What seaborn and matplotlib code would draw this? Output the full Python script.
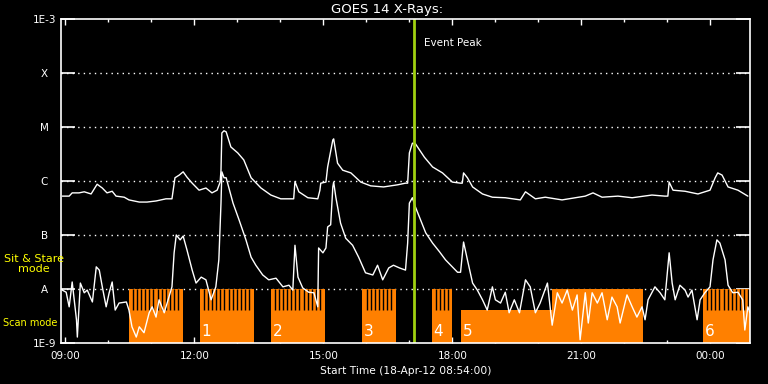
import numpy as np
import pandas as pd
import matplotlib
matplotlib.use('Agg')
import matplotlib.pyplot as plt
import seaborn as sns
from matplotlib.ticker import FixedLocator, NullLocator

# GOES 14 long channel (1-8 A): hours after 18-Apr-12 00:00, log10 flux (W/m^2)
long_hours = [8.93, 9.09, 9.16, 9.32, 9.44, 9.60, 9.74, 9.86, 9.97, 10.09, 10.18, 10.37,
              10.48, 10.72, 10.90, 11.11, 11.34, 11.48, 11.55, 11.65, 11.74, 11.83, 11.95,
              12.11, 12.27, 12.41, 12.53, 12.60, 12.62, 12.64, 12.69, 12.74, 12.85, 13.01,
              13.15, 13.32, 13.55, 13.78, 14.01, 14.24, 14.31, 14.34, 14.43, 14.64, 14.87,
              14.92, 14.94, 15.06, 15.10, 15.22, 15.24, 15.33, 15.45, 15.64, 15.87, 16.10,
              16.40, 16.73, 16.91, 16.96, 17.00, 17.07, 17.14, 17.35, 17.54, 17.77, 18.00,
              18.19, 18.23, 18.26, 18.35, 18.47, 18.70, 18.93, 19.23, 19.58, 19.70, 19.93,
              20.16, 20.39, 20.55, 20.86, 21.09, 21.27, 21.48, 21.85, 22.18, 22.64, 22.94,
              23.01, 23.04, 23.13, 23.41, 23.71, 23.99, 24.11, 24.17, 24.27, 24.41, 24.64,
              24.87]
long_log = [-6.28, -6.28, -6.22, -6.22, -6.20, -6.24, -6.06, -6.13, -6.22, -6.19, -6.28, -6.30,
            -6.35, -6.39, -6.39, -6.37, -6.33, -6.33, -5.94, -5.89, -5.83, -5.93, -6.04,
            -6.17, -6.13, -6.22, -6.17, -6.02, -5.80, -5.11, -5.07, -5.09, -5.37, -5.48,
            -5.61, -5.94, -6.13, -6.26, -6.33, -6.33, -6.33, -6.01, -6.20, -6.31, -6.33,
            -6.17, -6.04, -6.02, -5.74, -5.24, -5.22, -5.67, -5.80, -5.85, -6.02, -6.09,
            -6.11, -6.07, -6.04, -6.04, -5.48, -5.30, -5.31, -5.56, -5.74, -5.85, -6.02,
            -6.04, -6.04, -5.85, -5.94, -6.11, -6.24, -6.30, -6.31, -6.35, -6.20, -6.33,
            -6.30, -6.33, -6.35, -6.31, -6.28, -6.22, -6.30, -6.28, -6.31, -6.26, -6.28,
            -6.28, -6.02, -6.17, -6.19, -6.24, -6.17, -5.94, -5.85, -5.89, -6.11, -6.17,
            -6.28]

# short channel (0.5-4 A)
short_hours = [8.93, 9.02, 9.09, 9.16, 9.26, 9.28, 9.35, 9.44, 9.51, 9.63, 9.72, 9.79,
               9.86, 9.95, 10.02, 10.09, 10.16, 10.25, 10.42, 10.48, 10.55, 10.65, 10.72,
               10.83, 10.95, 11.02, 11.11, 11.18, 11.30, 11.41, 11.48, 11.53, 11.58, 11.67,
               11.74, 11.83, 11.95, 12.04, 12.16, 12.27, 12.39, 12.50, 12.57, 12.62, 12.64,
               12.69, 12.74, 12.90, 13.04, 13.20, 13.32, 13.43, 13.59, 13.73, 13.90, 14.06,
               14.20, 14.29, 14.34, 14.41, 14.52, 14.66, 14.78, 14.87, 14.89, 14.99, 15.06,
               15.10, 15.17, 15.22, 15.24, 15.29, 15.40, 15.52, 15.68, 15.82, 15.98, 16.15,
               16.26, 16.38, 16.52, 16.63, 16.77, 16.91, 16.96, 17.00, 17.07, 17.14, 17.26,
               17.38, 17.54, 17.70, 17.84, 18.00, 18.12, 18.19, 18.26, 18.35, 18.47, 18.58,
               18.70, 18.81, 18.93, 19.00, 19.12, 19.23, 19.32, 19.44, 19.56, 19.70, 19.81,
               19.93, 20.04, 20.21, 20.32, 20.44, 20.55, 20.67, 20.79, 20.90, 20.97, 21.09,
               21.16, 21.25, 21.37, 21.48, 21.60, 21.71, 21.83, 21.90, 22.06, 22.18, 22.29,
               22.41, 22.48, 22.55, 22.71, 22.83, 22.94, 23.04, 23.11, 23.18, 23.29, 23.41,
               23.48, 23.57, 23.69, 23.76, 23.87, 23.99, 24.06, 24.15, 24.22, 24.34, 24.41,
               24.52, 24.64, 24.75, 24.80, 24.87, 24.92]
short_log = [-8.02, -8.06, -8.33, -7.87, -8.57, -8.89, -7.89, -8.07, -8.02, -8.24, -7.59, -7.65,
             -7.96, -8.33, -8.07, -7.87, -8.39, -8.26, -8.24, -8.39, -8.70, -8.89, -8.70,
             -8.81, -8.44, -8.33, -8.52, -8.20, -8.44, -8.15, -7.96, -7.33, -7.00, -7.09,
             -7.02, -7.28, -7.65, -7.89, -7.78, -7.83, -8.20, -7.96, -7.46, -6.41, -5.83,
             -5.94, -5.94, -6.41, -6.72, -7.09, -7.41, -7.56, -7.74, -7.83, -7.80, -7.96,
             -7.93, -8.02, -7.19, -7.78, -7.98, -8.06, -8.07, -8.33, -7.24, -7.33, -7.24,
             -6.85, -6.81, -6.11, -6.02, -6.30, -6.78, -7.06, -7.19, -7.41, -7.70, -7.74,
             -7.56, -7.83, -7.61, -7.56, -7.61, -7.65, -7.15, -6.41, -6.31, -6.48, -6.72,
             -6.96, -7.15, -7.31, -7.46, -7.59, -7.69, -7.69, -7.13, -7.46, -7.89, -8.02,
             -8.20, -8.39, -7.96, -8.20, -8.26, -8.06, -8.44, -8.20, -8.44, -7.83, -7.96,
             -8.44, -8.26, -7.89, -8.67, -8.07, -8.26, -8.02, -8.39, -8.11, -8.94, -8.07,
             -8.63, -8.07, -8.26, -8.07, -8.57, -8.15, -8.33, -8.63, -8.11, -8.33, -8.52,
             -8.33, -8.57, -8.20, -7.96, -8.07, -8.20, -7.33, -7.89, -8.20, -7.93, -8.02,
             -8.15, -8.02, -8.57, -8.20, -8.07, -7.96, -7.46, -7.09, -7.15, -7.46, -7.93,
             -8.07, -8.06, -8.20, -8.76, -8.33, -8.44]

# observing mode blocks (hours)
block_start = [10.48, 12.13, 13.78, 15.91, 17.52, 18.21, 20.32, 23.83]
block_end = [11.74, 13.39, 15.03, 16.68, 17.98, 20.32, 22.43, 24.92]
block_mode = ['comb', 'comb', 'comb', 'comb', 'comb', 'scan', 'stare', 'comb']
block_label = ['', '1', '2', '3', '4', '5', '', '6']

event_peak = 17.10
start_label = 'Start Time (18-Apr-12 08:54:00)'

level_vals = [1e-9, 1e-8, 1e-7, 1e-6, 1e-5, 1e-4, 1e-3]
level_names = ['1E-9', 'A', 'B', 'C', 'M', 'X', '1E-3']
hour_ticks = [9, 12, 15, 18, 21, 24]
hour_names = ['09:00', '12:00', '15:00', '18:00', '21:00', '00:00']

long_df = pd.DataFrame({'hour': long_hours, 'flux': 10 ** np.array(long_log)})
short_df = pd.DataFrame({'hour': short_hours, 'flux': 10 ** np.array(short_log)})

sns.set_style('dark')
plt.rcParams['font.family'] = ['DejaVu Sans']

orange = '#ff8000'
scan_top = 4.1e-9
stare_top = 1e-8
stripe_step = 0.095

fig = plt.figure(figsize=(7.68, 3.84), dpi=100, facecolor='black')
ax = fig.add_axes([61 / 768, 41 / 384, 689 / 768, 324 / 384])
ax.set_facecolor('black')
ax.set_yscale('log')
ax.set_ylim(1e-9, 1e-3)
ax.set_xlim(8.9, 24.92)

# dotted level lines
for v in level_vals[1:-1]:
    ax.axhline(v, color='white', lw=1, linestyle=(0, (1, 3)), zorder=0.5)

# mode blocks
for s, e, m, lab in zip(block_start, block_end, block_mode, block_label):
    top = scan_top if m == 'scan' else stare_top
    ax.bar(s, top - 1e-9, width=e - s, bottom=1e-9, align='edge', color=orange,
           linewidth=0, zorder=1)
    if m == 'comb':
        xs = np.arange(s + stripe_step, e - stripe_step * 0.4, stripe_step)
        ax.vlines(xs, scan_top, stare_top, color='black', lw=1.0, zorder=1.1)
    if lab:
        ax.text(s + 0.04, 1.2e-9, lab, color='white', fontsize=11, va='bottom',
                ha='left', zorder=2.5)

sns.lineplot(data=long_df, x='hour', y='flux', color='white', lw=1, ax=ax,
             estimator=None, zorder=2)
sns.lineplot(data=short_df, x='hour', y='flux', color='white', lw=1, ax=ax,
             estimator=None, zorder=2)

ax.axvline(event_peak, color='#a0d010', lw=2, zorder=3)
ax.text(event_peak + 0.23, 3.6e-4, 'Event Peak', color='white', fontsize=7.5,
        va='center', ha='left')

ax.yaxis.set_major_locator(FixedLocator(level_vals))
ax.yaxis.set_minor_locator(NullLocator())
ax.set_yticklabels(level_names)
for t in ax.get_yticklabels():
    t.set_ha('center')
ax.set_xticks(hour_ticks)
ax.set_xticklabels(hour_names)
ax.xaxis.set_minor_locator(FixedLocator(np.arange(9, 25)))

ax.tick_params(axis='y', direction='in', length=10, width=1.2, colors='white',
               left=True, right=True, labelsize=7.5, pad=12)
ax.tick_params(axis='x', which='major', direction='in', length=4.5, width=1,
               colors='white', top=True, bottom=True, labelsize=7.5, pad=6)
ax.tick_params(axis='x', which='minor', direction='in', length=2.5, width=1,
               colors='white', top=True, bottom=True)
ax.grid(False)
for sp in ax.spines.values():
    sp.set_color('white')
    sp.set_linewidth(1.2)
    sp.set_visible(True)
    sp.set_zorder(4)

ax.set_xlabel(start_label, color='white', fontsize=7.7, labelpad=3)
ax.set_ylabel('')
fig.text(387 / 768, 1 - 10 / 384, 'GOES 14 X-Rays:', color='white', fontsize=9.5,
         ha='center', va='center')

fig.text(34 / 768, 1 - 264 / 384, 'Sit & Stare\nmode', color='yellow', fontsize=8,
         ha='center', va='center', multialignment='center', linespacing=1.0, zorder=5)
fig.text(3 / 768, 1 - 323 / 384, 'Scan mode', color='yellow', fontsize=7,
         ha='left', va='center', zorder=5)

fig.savefig('out.png', dpi=100, facecolor='black')
